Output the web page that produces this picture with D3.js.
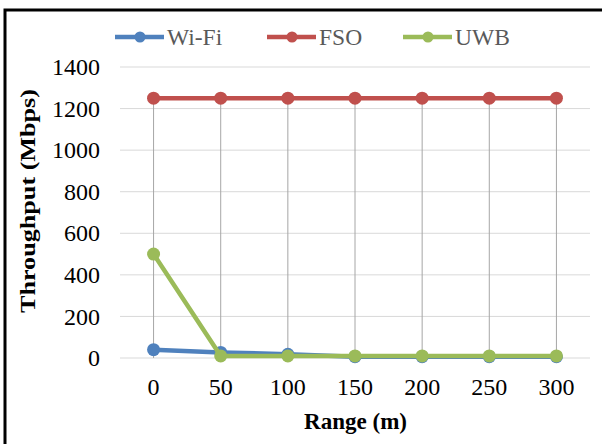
<!DOCTYPE html>
<html><head><meta charset="utf-8">
<script src="https://cdn.jsdelivr.net/npm/d3@7"></script>
<style>html,body{margin:0;padding:0;background:#fff;}svg{display:block;}</style>
</head><body>
<script>
const categories = ["0","50","100","150","200","250","300"];
const wifi = [40, 27, 18, 6, 6, 6, 6];
const fso = [1250, 1250, 1250, 1250, 1250, 1250, 1250];
const uwb = [500, 10, 10, 10, 10, 10, 10];
const yTicks = [0, 200, 400, 600, 800, 1000, 1200, 1400];
const seriesNames = ["Wi-Fi", "FSO", "UWB"];
const colors = ["#4F81BD", "#C0504D", "#9BBB59"];

(function () {
const W = 602, H = 444;
const svg = d3.select("body").append("svg").attr("width", W).attr("height", H);
svg.append("rect").attr("width", W).attr("height", H).attr("fill", "#fff");
svg.append("rect").attr("x", 5).attr("y", 10).attr("width", 640).attr("height", 480)
  .attr("fill", "none").attr("stroke", "#000").attr("stroke-width", 3);

const mL = 120, mR = 590, mT = 67, mB = 358;
const x = d3.scaleBand().domain(categories).range([mL, mR]);
const y = d3.scaleLinear().domain([0, 1400]).range([mB, mT]);
const cx = c => x(c) + x.bandwidth() / 2;

// gridlines
svg.append("g").selectAll("line").data(yTicks).join("line")
  .attr("x1", mL).attr("x2", mR)
  .attr("y1", d => y(d)).attr("y2", d => y(d))
  .attr("stroke", "#D9D9D9").attr("stroke-width", 1);

// drop lines from highest point to baseline
const maxes = categories.map((c, i) => Math.max(wifi[i], fso[i], uwb[i]));
svg.append("g").selectAll("line").data(categories).join("line")
  .attr("x1", d => cx(d)).attr("x2", d => cx(d))
  .attr("y1", (d, i) => y(maxes[i])).attr("y2", y(0))
  .attr("stroke", "#A6A6A6").attr("stroke-width", 1);

// y axis labels
const yAxis = d3.axisLeft(y).tickValues(yTicks).tickFormat(d3.format("d")).tickSize(0).tickPadding(0);
const gy = svg.append("g").attr("transform", `translate(${mL - 20},0)`).call(yAxis);
gy.select(".domain").remove();
gy.selectAll("text").attr("font-family", "Liberation Serif").attr("font-size", 24).attr("fill", "#000");

// x axis labels
const xAxis = d3.axisBottom(x).tickSize(0).tickPadding(0);
const gx = svg.append("g").attr("transform", `translate(0,${mB + 20})`).call(xAxis);
gx.select(".domain").remove();
gx.selectAll("text").attr("font-family", "Liberation Serif").attr("font-size", 24).attr("fill", "#000");

// series
const data = [wifi, fso, uwb];
const line = d3.line().x((d, i) => cx(categories[i])).y(d => y(d));
data.forEach((s, k) => {
  svg.append("path").datum(s).attr("d", line).attr("fill", "none")
    .attr("stroke", colors[k]).attr("stroke-width", 4.5).attr("stroke-linejoin", "round");
  svg.append("g").selectAll("circle").data(s).join("circle")
    .attr("cx", (d, i) => cx(categories[i])).attr("cy", d => y(d)).attr("r", 6.5)
    .attr("fill", colors[k]);
});

// axis titles
svg.append("text").attr("x", 304).attr("y", 429)
  .attr("font-family", "Liberation Serif").attr("font-weight", "bold").attr("font-size", 24)
  .attr("textLength", 103).attr("lengthAdjust", "spacingAndGlyphs")
  .text("Range (m)");
svg.append("text").attr("transform", "translate(35,313) rotate(-90)")
  .attr("font-family", "Liberation Serif").attr("font-weight", "bold").attr("font-size", 22)
  .attr("textLength", 224).attr("lengthAdjust", "spacingAndGlyphs")
  .text("Throughput (Mbps)");

// legend
const legX = [115, 267, 403];
const lg = svg.append("g");
seriesNames.forEach((n, k) => {
  const g = lg.append("g").attr("transform", `translate(${legX[k]},37)`);
  g.append("line").attr("x1", 0).attr("x2", 49).attr("stroke", colors[k]).attr("stroke-width", 4.5);
  g.append("circle").attr("cx", 25).attr("r", 5.5).attr("fill", colors[k]);
  g.append("text").attr("x", 52).attr("y", 8).attr("font-family", "Liberation Serif")
    .attr("font-size", 23.5).attr("fill", "#595959").text(n);
});
})();
</script>
</body></html>
